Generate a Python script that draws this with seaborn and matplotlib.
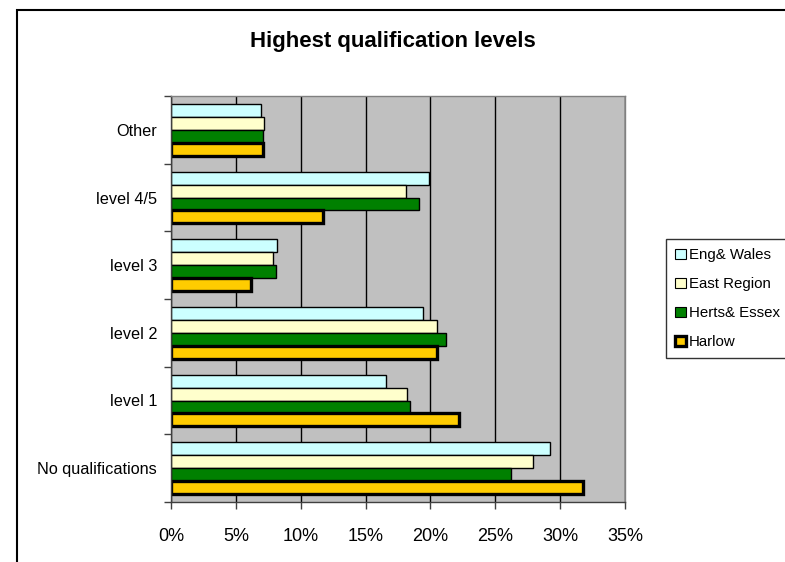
import matplotlib
matplotlib.use("Agg")
import matplotlib.pyplot as plt
from matplotlib.patches import Rectangle, Patch
from matplotlib.ticker import FuncFormatter, MultipleLocator, FixedLocator
import seaborn as sns
import pandas as pd

# Share of residents by highest qualification level (%)
categories = ["Other", "level 4/5", "level 3", "level 2", "level 1", "No qualifications"]
areas = ["Eng& Wales", "East Region", "Herts& Essex", "Harlow"]
eng_wales = [6.9, 19.9, 8.2, 19.4, 16.6, 29.2]
east_region = [7.2, 18.1, 7.9, 20.5, 18.2, 27.9]
herts_essex = [7.1, 19.1, 8.1, 21.2, 18.4, 26.2]
harlow = [7.1, 11.7, 6.2, 20.5, 22.2, 31.8]
colors = ["#CCFFFF", "#FFFFCC", "#008000", "#FFCC00"]

rows = []
for area, vals in zip(areas, [eng_wales, east_region, herts_essex, harlow]):
    for cat, v in zip(categories, vals):
        rows.append({"category": cat, "area": area, "value": v})
df = pd.DataFrame(rows)

sns.set_style("white")
plt.rcParams["font.family"] = ["Liberation Sans", "DejaVu Sans"]
plt.rcParams["text.color"] = "black"
plt.rcParams["xtick.color"] = "black"
plt.rcParams["ytick.color"] = "black"

fig = plt.figure(figsize=(7.85, 5.62), dpi=100)
ax = fig.add_axes([171 / 785, 1 - 502 / 562, 454 / 785, 406 / 562])

sns.barplot(data=df, y="category", x="value", hue="area", order=categories,
            hue_order=areas, palette=colors, orient="h", width=0.765,
            edgecolor="black", linewidth=1.0, saturation=1, ax=ax, legend=False)

# Harlow bars get a heavy outline
n = len(categories)
for i, patch in enumerate(ax.patches[:4 * n]):
    if i // n == 3:
        patch.set_linewidth(2.4)
        patch.set_joinstyle("miter")

ax.set_facecolor("#C0C0C0")
ax.set_xlim(0, 35)
ax.set_ylim(n - 0.5, -0.5)
ax.xaxis.set_major_locator(MultipleLocator(5))
ax.xaxis.set_major_formatter(FuncFormatter(lambda v, p: f"{v:.0f}%"))
ax.grid(axis="x", color="black", linewidth=1.0)
ax.set_axisbelow(True)
ax.set_xlabel("")
ax.set_ylabel("")

for side in ["top", "right"]:
    ax.spines[side].set_color("#808080")
    ax.spines[side].set_linewidth(1.0)
for side in ["left", "bottom"]:
    ax.spines[side].set_color("#404040")
    ax.spines[side].set_linewidth(1.0)

ax.tick_params(axis="x", which="major", length=5, width=1, color="#404040",
               labelcolor="black", direction="out", bottom=True,
               labelsize=13, pad=14)
ax.tick_params(axis="y", which="major", length=0, labelsize=11.7,
               labelcolor="black", pad=10)
ax.yaxis.set_minor_locator(FixedLocator([k - 0.5 for k in range(n + 1)]))
ax.tick_params(axis="y", which="minor", length=5, width=1, color="#404040",
               direction="out", left=True)

fig.text(0.5, 1 - 42 / 562, "Highest qualification levels", ha="center",
         va="center", fontsize=16, fontweight="bold", color="black")

handles = []
for a, c in zip(areas, colors):
    lw = 2.4 if a == "Harlow" else 0.8
    handles.append(Patch(facecolor=c, edgecolor="black", linewidth=lw, label=a))
leg = fig.legend(handles=handles, loc="upper left",
                 bbox_to_anchor=(666 / 785, 1 - 239 / 562), frameon=True,
                 fancybox=False, edgecolor="black", fontsize=10.8,
                 handlelength=0.7, handleheight=0.7, handletextpad=0.25,
                 labelspacing=1.0, borderpad=0.6, borderaxespad=0)
leg.get_frame().set_linewidth(1.0)
for t in leg.get_texts():
    t.set_color("black")

# Outer chart border
fig.patches.append(Rectangle((16.5 / 785, -0.1), 1.2, 1.1 - 10 / 562,
                             transform=fig.transFigure, fill=False,
                             edgecolor="black", linewidth=1.5))

fig.savefig("out.png", dpi=100)
